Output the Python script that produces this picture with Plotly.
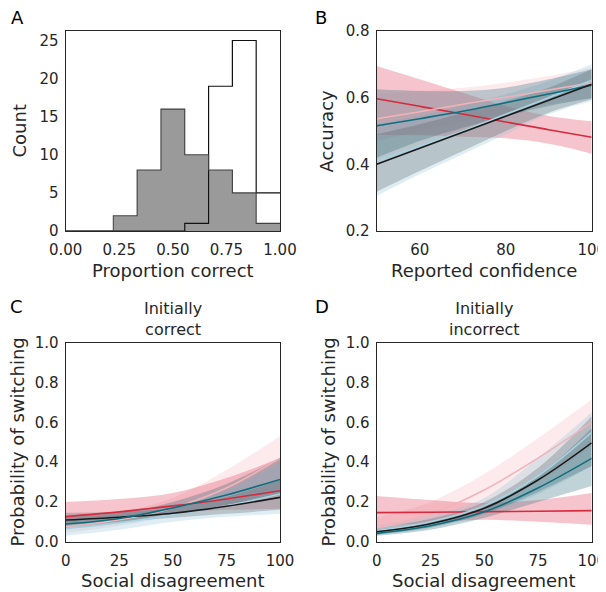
import plotly.graph_objects as go

# ---------------- data ----------------
# Panel A: histograms (9 bins from 0 to 1)
bin_edges = [0, 1/9, 2/9, 3/9, 4/9, 5/9, 6/9, 7/9, 8/9, 1.0]
counts_filled = [0, 0, 2, 8, 16, 10, 8, 5, 1]
counts_outline = [0, 0, 0, 0, 0, 1, 19, 25, 5]

# Panel B: accuracy vs reported confidence
conf_x = [50, 60, 70, 80, 90, 100]
b_red = [0.597, 0.574, 0.551, 0.527, 0.504, 0.481]
b_red_lo = [0.489, 0.487, 0.483, 0.478, 0.462, 0.432]
b_red_hi = [0.695, 0.655, 0.615, 0.575, 0.545, 0.529]
b_pink = [0.537, 0.558, 0.580, 0.601, 0.623, 0.645]
b_pink_lo = [0.470, 0.500, 0.530, 0.555, 0.580, 0.600]
b_pink_hi = [0.610, 0.620, 0.630, 0.645, 0.665, 0.690]
b_teal = [0.516, 0.537, 0.559, 0.585, 0.611, 0.637]
b_teal_lo = [0.420, 0.470, 0.510, 0.545, 0.575, 0.598]
b_teal_hi = [0.625, 0.620, 0.620, 0.630, 0.655, 0.685]
b_black = [0.400, 0.448, 0.496, 0.544, 0.592, 0.640]
b_black_lo = [0.318, 0.380, 0.440, 0.500, 0.555, 0.595]
b_black_hi = [0.490, 0.520, 0.555, 0.590, 0.630, 0.685]
b_lblue = [0.410, 0.455, 0.500, 0.550, 0.600, 0.652]
b_lblue_lo = [0.305, 0.370, 0.430, 0.490, 0.550, 0.590]
b_lblue_hi = [0.520, 0.545, 0.575, 0.610, 0.650, 0.700]

# Panels C & D: probability of switching vs social disagreement
dis_x = [0, 25, 50, 75, 100]
# C: initially correct
c_red = [0.126, 0.150, 0.180, 0.215, 0.256]
c_red_lo = [0.095, 0.120, 0.145, 0.160, 0.165]
c_red_hi = [0.200, 0.215, 0.245, 0.320, 0.420]
c_pink = [0.075, 0.110, 0.170, 0.270, 0.420]
c_pink_lo = [0.045, 0.080, 0.130, 0.180, 0.260]
c_pink_hi = [0.120, 0.150, 0.220, 0.360, 0.530]
c_teal = [0.089, 0.117, 0.170, 0.235, 0.313]
c_teal_lo = [0.065, 0.095, 0.140, 0.185, 0.235]
c_teal_hi = [0.125, 0.145, 0.200, 0.290, 0.420]
c_black = [0.109, 0.123, 0.143, 0.178, 0.223]
c_black_lo = [0.080, 0.100, 0.120, 0.140, 0.160]
c_black_hi = [0.145, 0.150, 0.170, 0.225, 0.310]
c_lblue = [0.065, 0.095, 0.135, 0.180, 0.240]
c_lblue_lo = [0.030, 0.060, 0.100, 0.125, 0.140]
c_lblue_hi = [0.110, 0.135, 0.180, 0.260, 0.400]
# D: initially incorrect
d_red = [0.146, 0.148, 0.151, 0.153, 0.156]
d_red_lo = [0.075, 0.095, 0.110, 0.100, 0.085]
d_red_hi = [0.230, 0.210, 0.195, 0.210, 0.245]
d_pink = [0.070, 0.140, 0.260, 0.420, 0.600]
d_pink_lo = [0.040, 0.100, 0.190, 0.300, 0.480]
d_pink_hi = [0.120, 0.200, 0.340, 0.520, 0.715]
d_teal = [0.042, 0.080, 0.150, 0.270, 0.419]
d_teal_lo = [0.030, 0.060, 0.120, 0.200, 0.280]
d_teal_hi = [0.060, 0.100, 0.180, 0.330, 0.570]
d_black = [0.050, 0.090, 0.168, 0.310, 0.497]
d_black_lo = [0.035, 0.070, 0.140, 0.250, 0.380]
d_black_hi = [0.070, 0.115, 0.200, 0.370, 0.630]
d_lblue = [0.055, 0.100, 0.180, 0.330, 0.550]
d_lblue_lo = [0.035, 0.075, 0.140, 0.240, 0.380]
d_lblue_hi = [0.080, 0.130, 0.220, 0.420, 0.650]

# ---------------- styles ----------------
FONT = "DejaVu Sans"
TXT = "#262626"
OFF = 8  # default page body margin
W, H = 606 - OFF, 592 - OFF
STY = {
    "red":   ("#d62a3e", "rgba(226,70,95,0.32)"),
    "pink":  ("#f2b3b8", "rgba(240,160,170,0.22)"),
    "teal":  ("#0f6e7e", "rgba(45,110,125,0.30)"),
    "black": ("#1a1a1a", "rgba(70,80,85,0.26)"),
    "lblue": ("#a7d3e2", "rgba(150,200,218,0.30)"),
}

fig = go.Figure()

# ---- Panel A ----
centers = [(bin_edges[i] + bin_edges[i + 1]) / 2 for i in range(len(counts_filled))]
widths = [bin_edges[i + 1] - bin_edges[i] for i in range(len(counts_filled))]
fig.add_trace(go.Scatter(x=bin_edges, y=counts_outline + [counts_outline[-1]], mode="lines",
                         line=dict(color="#111111", width=1.2, shape="hv"),
                         xaxis="x", yaxis="y", showlegend=False, hoverinfo="skip"))
fig.add_trace(go.Bar(x=centers, y=counts_filled, width=widths,
                     marker=dict(color="rgba(143,143,143,0.9)", line=dict(width=0)),
                     xaxis="x", yaxis="y", showlegend=False))
fig.add_trace(go.Scatter(x=bin_edges, y=counts_filled + [counts_filled[-1]], mode="lines",
                         line=dict(color="#404040", width=1.1, shape="hv"),
                         xaxis="x", yaxis="y", showlegend=False, hoverinfo="skip"))


def add_panel(xs, series, xa, ya):
    # bands first
    for key, line, lo, hi in series:
        col, fill = STY[key]
        fig.add_trace(go.Scatter(x=xs, y=lo, mode="lines", line=dict(width=0, shape="spline"),
                                 xaxis=xa, yaxis=ya, showlegend=False, hoverinfo="skip"))
        fig.add_trace(go.Scatter(x=xs, y=hi, mode="lines", line=dict(width=0, shape="spline"),
                                 fill="tonexty", fillcolor=fill,
                                 xaxis=xa, yaxis=ya, showlegend=False, hoverinfo="skip"))
    for key, line, lo, hi in series:
        col, fill = STY[key]
        fig.add_trace(go.Scatter(x=xs, y=line, mode="lines", line=dict(color=col, width=1.6, shape="spline"),
                                 xaxis=xa, yaxis=ya, showlegend=False))


add_panel(conf_x, [("red", b_red, b_red_lo, b_red_hi),
                   ("pink", b_pink, b_pink_lo, b_pink_hi),
                   ("lblue", b_lblue, b_lblue_lo, b_lblue_hi),
                   ("teal", b_teal, b_teal_lo, b_teal_hi),
                   ("black", b_black, b_black_lo, b_black_hi)], "x2", "y2")
add_panel(dis_x, [("pink", c_pink, c_pink_lo, c_pink_hi),
                  ("red", c_red, c_red_lo, c_red_hi),
                  ("lblue", c_lblue, c_lblue_lo, c_lblue_hi),
                  ("black", c_black, c_black_lo, c_black_hi),
                  ("teal", c_teal, c_teal_lo, c_teal_hi)], "x3", "y3")
add_panel(dis_x, [("pink", d_pink, d_pink_lo, d_pink_hi),
                  ("red", d_red, d_red_lo, d_red_hi),
                  ("lblue", d_lblue, d_lblue_lo, d_lblue_hi),
                  ("black", d_black, d_black_lo, d_black_hi),
                  ("teal", d_teal, d_teal_lo, d_teal_hi)], "x4", "y4")

# ---------------- layout ----------------
def px_x(p):
    return (p - OFF) / W


def px_y(p):
    return 1 - (p - OFF) / H


left_dom = [px_x(65.7), px_x(280)]
right_dom = [px_x(376.7), px_x(591.7)]
top_dom = [px_y(231), px_y(31)]
bot_dom = [px_y(541.7), px_y(342.7)]

tickfont = dict(family=FONT, size=15, color=TXT)


def ax(domain, anchor, rng, tickvals, ticktext, standoff):
    return dict(domain=domain, anchor=anchor, range=rng, tickvals=tickvals, ticktext=ticktext,
                showline=True, linecolor="#262626", linewidth=1.3, mirror=True, showgrid=False,
                zeroline=False, ticks="", tickfont=tickfont, fixedrange=True, automargin=False,
                ticklabelstandoff=standoff, ticklabeloverflow="allow")


fig.update_layout(
    width=W, height=H, margin=dict(l=0, r=0, t=0, b=0),
    paper_bgcolor="white", plot_bgcolor="white", bargap=0, barmode="overlay",
    xaxis=ax(left_dom, "y", [0, 1], [0, 0.25, 0.5, 0.75, 1.0], ["0.00", "0.25", "0.50", "0.75", "1.00"], 5),
    yaxis=ax(top_dom, "x", [0, 26.25], [0, 5, 10, 15, 20, 25], ["0", "5", "10", "15", "20", "25"], 3),
    xaxis2=ax(right_dom, "y2", [50, 100], [60, 80, 100], ["60", "80", "100"], 5),
    yaxis2=ax(top_dom, "x2", [0.2, 0.8], [0.2, 0.4, 0.6, 0.8], ["0.2", "0.4", "0.6", "0.8"], 3),
    xaxis3=ax(left_dom, "y3", [0, 100], [0, 25, 50, 75, 100], ["0", "25", "50", "75", "100"], 5),
    yaxis3=ax(bot_dom, "x3", [0, 1], [0, 0.2, 0.4, 0.6, 0.8, 1.0], ["0.0", "0.2", "0.4", "0.6", "0.8", "1.0"], 3),
    xaxis4=ax(right_dom, "y4", [0, 100], [0, 25, 50, 75, 100], ["0", "25", "50", "75", "100"], 5),
    yaxis4=ax(bot_dom, "x4", [0, 1], [0, 0.2, 0.4, 0.6, 0.8, 1.0], ["0.0", "0.2", "0.4", "0.6", "0.8", "1.0"], 3),
)


def label(text, x, y, angle=0, size=18, color=TXT):
    fig.add_annotation(text=text, x=px_x(x), y=px_y(y), xref="paper", yref="paper", showarrow=False,
                       xanchor="center", yanchor="middle", textangle=angle,
                       font=dict(family=FONT, size=size, color=color))


# axis titles
label("Proportion correct", 173, 270)
label("Count", 18.5, 131, angle=-90)
label("Reported confidence", 484, 270)
label("Accuracy", 325.5, 131, angle=-90)
label("Social disagreement", 172.5, 580)
label("Probability of switching", 16.5, 442, angle=-90)
label("Social disagreement", 484, 580)
label("Probability of switching", 327.5, 442, angle=-90)

# panel letters
for t, x, y in [("A", 17.5, 17), ("B", 321, 17), ("C", 16.5, 306), ("D", 321.5, 306)]:
    label(t, x, y, size=18, color="black")

# panel titles
label("Initially<br>correct", 172.5, 319, size=16)
label("Initially<br>incorrect", 484.2, 319, size=16)

fig.write_html("out.html")
